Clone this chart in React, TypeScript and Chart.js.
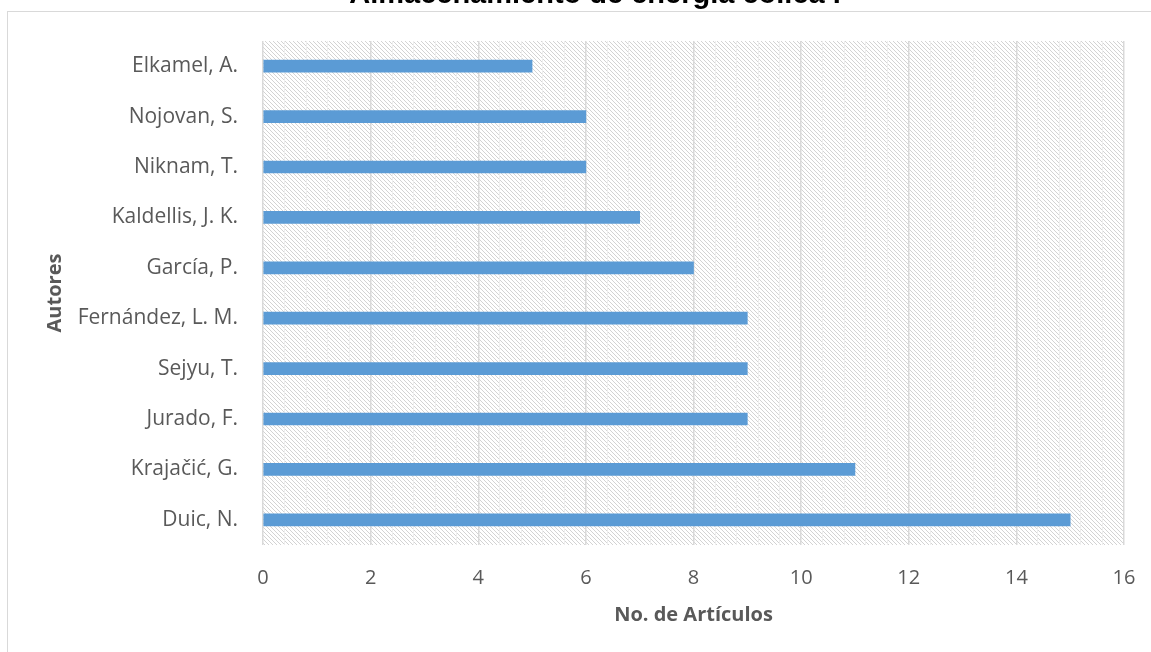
import React, { useEffect, useRef } from "react";
import { Chart, registerables } from "chart.js";

Chart.register(...registerables);

const chartTitle = "Almacenamiento de energía eólica .";
const authors = [
  "Elkamel, A.",
  "Nojovan, S.",
  "Niknam, T.",
  "Kaldellis, J. K.",
  "García, P.",
  "Fernández, L. M.",
  "Sejyu, T.",
  "Jurado, F.",
  "Krajačić, G.",
  "Duic, N.",
];
const articles = [5, 6, 6, 7, 8, 9, 9, 9, 11, 15];
const xTitle = "No. de Artículos";
const yTitle = "Autores";

const isMajor = (v: number) => Math.abs(v / 2 - Math.round(v / 2)) < 1e-6;

function makePattern(): CanvasPattern | string {
  const c = document.createElement("canvas");
  c.width = 8;
  c.height = 8;
  const g = c.getContext("2d");
  if (!g) return "#f2f2f2";
  g.fillStyle = "#ffffff";
  g.fillRect(0, 0, 8, 8);
  g.fillStyle = "#d3d3d3";
  for (let y = 0; y < 8; y++) {
    for (let x = 0; x < 8; x++) {
      if ((((x - y) % 4) + 4) % 4 === 0) g.fillRect(x, y, 1, 1);
    }
  }
  const p = g.createPattern(c, "repeat");
  return p || "#f2f2f2";
}

export default function App() {
  const ref = useRef<HTMLCanvasElement | null>(null);

  useEffect(() => {
    document.body.style.margin = "0";
    document.body.style.overflow = "hidden";
    if (!ref.current) return;
    const pattern = makePattern();

    const decor = {
      id: "decor",
      beforeDraw(chart: any) {
        const { ctx, chartArea } = chart;
        ctx.save();
        ctx.fillStyle = pattern;
        ctx.fillRect(
          chartArea.left,
          chartArea.top,
          chartArea.right - chartArea.left,
          chartArea.bottom - chartArea.top
        );
        ctx.strokeStyle = "#d9d9d9";
        ctx.lineWidth = 1;
        ctx.strokeRect(7.5, 11.5, 3000, 3000);
        ctx.restore();
      },
      afterDraw(chart: any) {
        const { ctx } = chart;
        ctx.save();
        ctx.fillStyle = "#000000";
        ctx.font = 'bold 29px "Liberation Sans", Arial, sans-serif';
        ctx.textAlign = "center";
        ctx.textBaseline = "alphabetic";
        ctx.fillText(chartTitle, 595, 3);
        ctx.restore();
      },
    };

    const chart = new Chart(ref.current, {
      type: "bar",
      data: {
        labels: authors,
        datasets: [
          {
            data: articles,
            backgroundColor: "#5B9BD5",
            barThickness: 12,
          },
        ],
      },
      options: {
        indexAxis: "y",
        animation: false,
        responsive: true,
        maintainAspectRatio: false,
        layout: { padding: { top: 41, right: 27, left: 0, bottom: 0 } },
        plugins: {
          legend: { display: false },
          tooltip: { enabled: false },
          title: { display: false },
        },
        scales: {
          x: {
            min: 0,
            max: 16,
            border: { display: false },
            grid: {
              drawTicks: false,
              color: (c: any) => (isMajor(c.tick.value) ? "#d9d9d9" : "#eeeeee"),
              lineWidth: (c: any) => (isMajor(c.tick.value) ? 1.5 : 1),
            },
            ticks: {
              stepSize: 0.4,
              autoSkip: false,
              maxRotation: 0,
              padding: 21,
              color: "#595959",
              font: { family: '"Open Sans", sans-serif', size: 20 },
              callback: (v: any) => (isMajor(Number(v)) ? String(Math.round(Number(v))) : ""),
            },
            title: {
              display: true,
              text: xTitle,
              color: "#595959",
              font: { family: '"Open Sans", sans-serif', size: 20, weight: "bold" },
              padding: { top: 0, bottom: 25 },
            },
            afterFit: (s: any) => {
              s.height = 107;
              s.paddingRight = 0;
              s.paddingLeft = 0;
            },
          },
          y: {
            border: { display: false },
            grid: { display: false },
            ticks: {
              padding: 17,
              color: "#595959",
              font: { family: '"Open Sans", sans-serif', size: 21 },
            },
            title: {
              display: true,
              text: yTitle,
              color: "#595959",
              font: { family: '"Open Sans", sans-serif', size: 20, weight: "bold" },
              padding: { top: 43, bottom: 0 },
            },
            afterFit: (s: any) => {
              s.width = 263;
            },
          },
        },
      },
      plugins: [decor],
    } as any);

    return () => chart.destroy();
  }, []);

  return (
    <div style={{ position: "absolute", left: 0, top: 0, width: 1151, height: 652 }}>
      <canvas ref={ref} />
    </div>
  );
}
